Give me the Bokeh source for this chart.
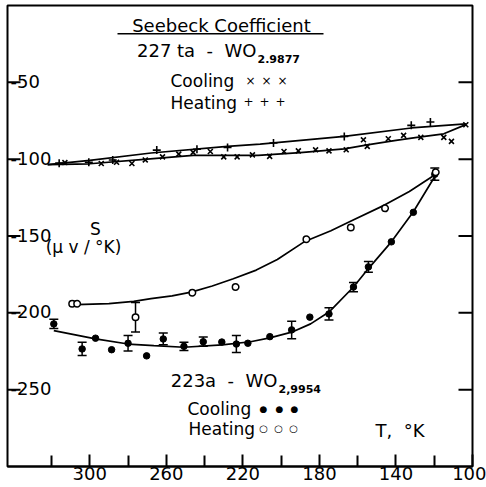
from bokeh.plotting import figure
from bokeh.models import Range1d, FixedTicker, Whisker, ColumnDataSource, TeeHead
from bokeh.core.properties import value
from bokeh.embed import file_html
from bokeh.resources import INLINE

FONT = value("DejaVu Sans")
NB = "\u00a0"

# ---- sample 227 ta - WO2.9877 ----
up_heat_T = [316, 300.5, 288, 265, 244, 228, 204, 167, 132, 122]
up_heat_S = [-102.6, -102, -100.5, -94.1, -93.5, -92.4, -89.5, -85.2, -78, -75.8]
up_cool_T = [313, 294, 286, 278, 271, 262, 253.5, 246, 237, 230, 223, 215, 206, 198.5,
             191, 182, 175, 166, 157, 155, 144, 136, 127, 115, 111, 103.5]
up_cool_S = [-102.2, -102.8, -102, -102.8, -100.5, -98.5, -96.7, -95.6, -95, -98.5, -98.5,
             -97.2, -98.2, -95, -94.6, -93.9, -94.6, -93.9, -87.4, -91.7, -86.7, -84.5,
             -85.8, -85.8, -88.4, -77.6]
up_heat_fit_T = [322, 300, 268, 228, 211, 167, 132, 103.5]
up_heat_fit_S = [-103.5, -100.8, -96, -91.7, -90.2, -85.2, -79.7, -77]
up_cool_fit_T = [322, 300, 270, 246, 230, 212, 190, 167, 155, 140, 129, 115, 103.5]
up_cool_fit_S = [-103.5, -103, -100, -97.5, -97.5, -97.5, -95.8, -93.3, -90.7, -87.8,
                 -85.8, -83.5, -77.5]

# ---- sample 223a - WO2.9954 ----
lo_cool_T = [318.8, 304, 297, 288.6, 280, 270.3, 261.6, 250.8, 240.7, 231, 223.4, 217.4,
             205.9, 194.5, 185, 175, 162.2, 154.4, 142.4, 130.9, 119.7]
lo_cool_S = [-207.2, -223.5, -216.5, -224, -219.8, -228, -217, -221.8, -218.8, -219,
             -220.3, -219.8, -215.5, -211.1, -202.8, -200.7, -183.2, -170.1, -153.8,
             -134.6, -109.8]
lo_cool_err = [3, 4.3, 0, 0, 5, 0, 3.8, 2.7, 3, 0, 5.5, 0, 0, 5.7, 0, 4, 3, 3.5, 0, 0, 4]
lo_heat_T = [309.2, 306.6, 276.1, 246.4, 223.8, 186.8, 163.6, 145.7, 119.2]
lo_heat_S = [-194.1, -194.1, -202.8, -186.9, -183.2, -152.1, -144.4, -132, -108.5]
lo_heat_err = [0, 0, 9.6, 0, 0, 0, 0, 0, 0]
lo_heat_fit_T = [307, 290, 277, 268, 257, 247, 236, 225, 213, 202, 188, 174, 164, 146, 133, 121]
lo_heat_fit_S = [-194.6, -194, -192.6, -190.8, -189, -186.5, -182.5, -177.8, -172.2, -165.3,
                 -153.8, -146.6, -140.5, -129.9, -121, -111.3]
lo_cool_fit_T = [318.8, 297, 280, 266.5, 250.8, 230.8, 216, 205.9, 194.5, 184.6, 175, 162.2,
                 154.4, 142.4, 130.9, 119.7]
lo_cool_fit_S = [-211.6, -217, -220.3, -221.4, -222.4, -220.9, -218.8, -216.3, -212.6,
                 -207.2, -199.5, -183.2, -171.2, -153.8, -134.2, -111.3]

x_major = [300, 260, 220, 180, 140, 100]
x_minor = [320, 280, 240, 200, 160, 120]
y_ticks = [-250, -200, -150, -100, -50]
y_tick_labels = ["-250", "-200", "-150", "-100", "-50"]

# ---- layout ----
W, H = 486, 487
BL, BR, BT, BB = 7, 14, 5, 21
X0, X1 = 343, 100
Y0, Y1 = -300, 0
PPX = (W - BL - BR) / (X0 - X1)
PPY = (H - BT - BB) / (Y1 - Y0)


def tx(px):
    return X0 - (px - BL) / PPX


def sy(py):
    return Y1 - (py - BT) / PPY


p = figure(width=W, height=H, output_backend="svg", toolbar_location=None,
           x_range=Range1d(X0, X1), y_range=Range1d(Y0, Y1),
           min_border_left=BL, min_border_right=BR, min_border_top=BT, min_border_bottom=BB)
p.background_fill_color = "white"
p.border_fill_color = "white"
p.xgrid.visible = False
p.ygrid.visible = False
p.yaxis.visible = False
p.outline_line_color = "black"
p.outline_line_width = 2

xa = p.xaxis[0]
xa.ticker = FixedTicker(ticks=x_major, minor_ticks=x_minor)
xa.major_tick_in = 12
xa.major_tick_out = 0
xa.minor_tick_in = 11
xa.minor_tick_out = 0
xa.major_tick_line_width = 2
xa.minor_tick_line_width = 2
xa.axis_line_width = 2
xa.major_label_text_font = "DejaVu Sans"
xa.major_label_text_font_size = "18px"
xa.major_label_text_color = "black"
xa.major_label_standoff = 0

# y ticks (inward, both sides)
p.segment(x0=[X0] * len(y_ticks), y0=y_ticks, x1=[X0 - 13 / PPX] * len(y_ticks), y1=y_ticks,
          line_color="black", line_width=2)
p.segment(x0=[X1] * len(y_ticks), y0=y_ticks, x1=[X1 + 14 / PPX] * len(y_ticks), y1=y_ticks,
          line_color="black", line_width=2)

# fitted curves
for fx, fy in [(up_heat_fit_T, up_heat_fit_S), (up_cool_fit_T, up_cool_fit_S),
               (lo_heat_fit_T, lo_heat_fit_S), (lo_cool_fit_T, lo_cool_fit_S)]:
    p.line(fx, fy, line_color="black", line_width=1.7)

# upper sample markers
p.scatter(up_heat_T, up_heat_S, marker="cross", size=8, line_color="black", line_width=1.6)
p.scatter(up_cool_T, up_cool_S, marker="x", size=7, line_color="black", line_width=1.6)


def whisk(T, S, E):
    xs = [t for t, e in zip(T, E) if e > 0]
    lo = [s - e for s, e in zip(S, E) if e > 0]
    hi = [s + e for s, e in zip(S, E) if e > 0]
    src = ColumnDataSource(dict(x=xs, lower=lo, upper=hi))
    w = Whisker(source=src, base="x", lower="lower", upper="upper", dimension="height",
                line_color="black", line_width=1.5,
                upper_head=TeeHead(size=9, line_width=1.5, line_color="black"),
                lower_head=TeeHead(size=9, line_width=1.5, line_color="black"))
    p.add_layout(w)


whisk(lo_cool_T, lo_cool_S, lo_cool_err)
whisk(lo_heat_T, lo_heat_S, lo_heat_err)

p.scatter(lo_cool_T, lo_cool_S, marker="circle", size=6.5, fill_color="black", line_color="black")
p.scatter(lo_heat_T, lo_heat_S, marker="circle", size=6.5, fill_color="white",
          line_color="black", line_width=1.5)


def txt(px, py, s, size="17px", align="left", baseline="middle", style="normal"):
    p.text(x=[tx(px)], y=[sy(py)], text=[s], text_font=FONT, text_font_size=size,
           text_align=align, text_baseline=baseline, text_font_style=style, text_color="black")


# y tick labels drawn inside the frame
p.text(x=[tx(10)] * len(y_ticks), y=[v + 1 / PPY for v in y_ticks], text=y_tick_labels,
       text_font=FONT, text_font_size="18px", text_align="left",
       text_baseline="alphabetic", text_color="black")

# axis titles
txt(95, 228, "S", align="center")
txt(83, 246, "(\u03bc v / \u00b0K)", align="center")
txt(375, 430, "T," + NB + NB + "\u00b0K", size="18px")

# title block
txt(221, 24.5, "Seebeck Coefficient", size="18px", align="center")
p.segment(x0=[tx(117)], y0=[sy(33.3)], x1=[tx(323)], y1=[sy(33.3)], line_color="black",
          line_width=1.5)
txt(256, 50, "227 ta" + NB + NB + "-" + NB + NB + "WO", size="18px", align="right")
txt(257, 58, "2.9877", size="11px", style="bold")
txt(170, 80, "Cooling")
txt(170, 102, "Heating")
for cx in [250, 266, 282]:
    txt(cx, 80, "\u00d7", size="12px", align="center")
for cx in [248, 264, 280]:
    txt(cx, 101, "+", size="12px", align="center")

# lower sample labels
txt(277, 380, "223a" + NB + NB + "-" + NB + NB + "WO", size="18px", align="right")
txt(278, 388, "2,9954", size="11px", style="bold")
txt(187, 408, "Cooling")
txt(188, 428, "Heating")
for cx in [263, 279, 294]:
    txt(cx, 408, "\u25cf", size="9px", align="center")
for cx in [263, 278, 293]:
    txt(cx, 428, "\u25cb", size="10px", align="center")

open("out.html", "w").write(file_html(p, INLINE))
